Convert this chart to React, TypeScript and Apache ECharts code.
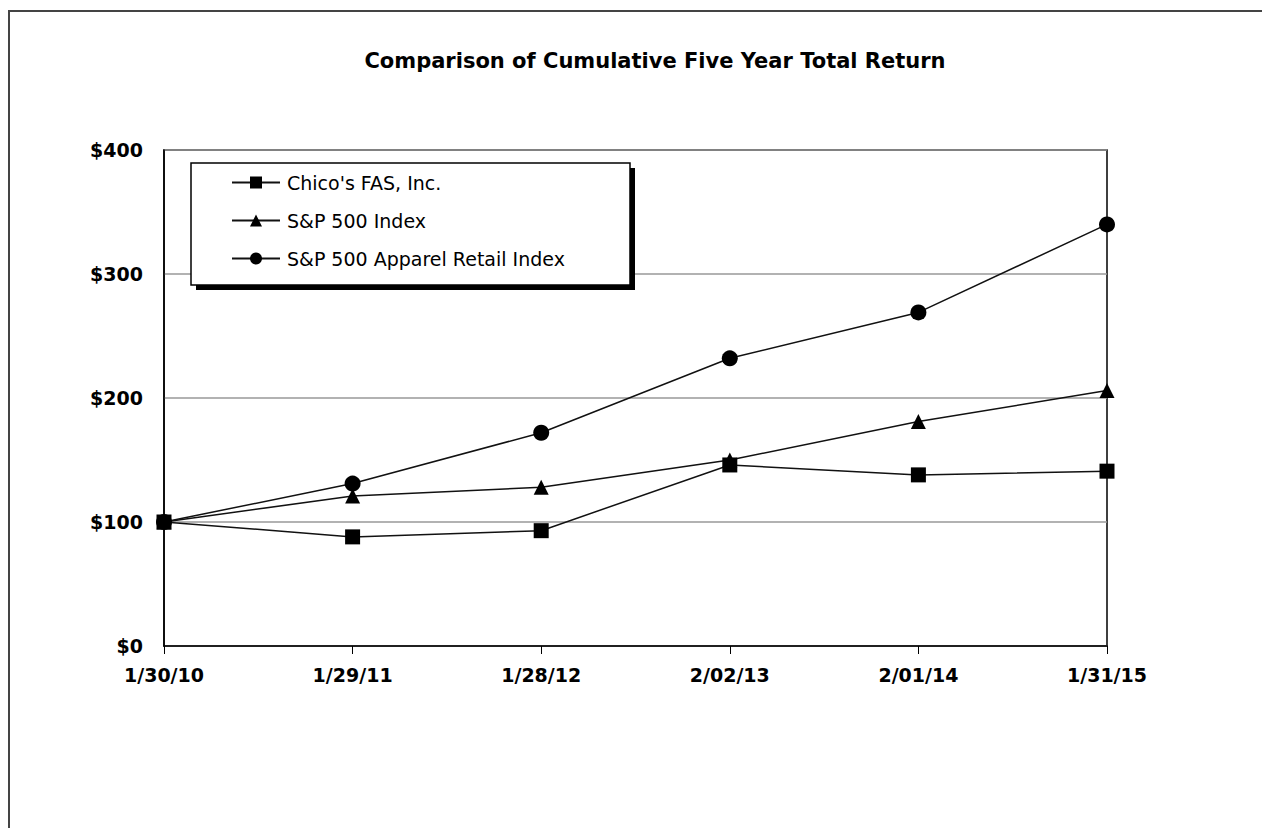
import React, { useEffect, useRef } from "react";
import * as echarts from "echarts";

const categories = ["1/30/10", "1/29/11", "1/28/12", "2/02/13", "2/01/14", "1/31/15"];
const chicos = [100, 88, 93, 146, 138, 141];
const sp500 = [100, 121, 128, 150, 181, 206];
const apparel = [100, 131, 172, 232, 269, 340];
const seriesNames = ["Chico's FAS, Inc.", "S&P 500 Index", "S&P 500 Apparel Retail Index"];
const yTicks = { min: 0, max: 400, interval: 100 };

const BOLD = "'DejaVu Sans', 'Liberation Sans', Arial, sans-serif";
const SANS = "'DejaVu Sans', 'Liberation Sans', Arial, sans-serif";

export default function App() {
  const ref = useRef<HTMLDivElement>(null);
  useEffect(() => {
    if (!ref.current) return;
    const chart = echarts.init(ref.current, null, { renderer: "svg" });
    const mk = (name: string, data: number[], symbol: string, size: number) => ({
      name,
      type: "line",
      data,
      symbol,
      symbolSize: size,
      showAllSymbol: true,
      lineStyle: { color: "#111", width: 1.5 },
      itemStyle: { color: "#000", borderWidth: 0 },
      z: 5,
    });
    chart.setOption({
      animation: false,
      backgroundColor: "#fff",
      title: {
        text: "Comparison of Cumulative Five Year Total Return",
        left: 650,
        textAlign: "center",
        top: 45,
        textStyle: { fontFamily: BOLD, fontWeight: "bold", fontSize: 21, color: "#000" },
      },
      graphic: [
        {
          type: "rect",
          shape: { x: 9, y: 11, width: 1300, height: 900 },
          style: { fill: "none", stroke: "#444", lineWidth: 2 },
          silent: true,
          z: 0,
        },
        {
          type: "rect",
          shape: { x: 196, y: 168, width: 439, height: 122 },
          style: { fill: "#000" },
          z: 10,
        },
        {
          type: "rect",
          shape: { x: 191, y: 163, width: 439, height: 122 },
          style: { fill: "#fff", stroke: "#000", lineWidth: 1.5 },
          z: 11,
        },
      ],
      legend: {
        orient: "vertical",
        left: 231,
        top: 173,
        itemWidth: 48,
        itemHeight: 15,
        itemGap: 19,
        padding: 0,
        z: 20,
        data: seriesNames,
        textStyle: { fontFamily: SANS, fontSize: 19, color: "#000", padding: [0, 0, 0, 2] },
      },
      grid: {
        left: 164,
        right: 155,
        top: 150,
        bottom: 182,
        show: true,
        borderColor: "#000",
        borderWidth: 1.5,
        backgroundColor: "transparent",
      },
      xAxis: {
        type: "category",
        data: categories,
        boundaryGap: false,
        axisLine: { lineStyle: { color: "#000", width: 1.5 } },
        axisTick: { show: true, length: 8, lineStyle: { color: "#000" } },
        axisLabel: {
          color: "#000",
          fontFamily: BOLD,
          fontWeight: "bold",
          fontSize: 19,
          margin: 19,
          showMinLabel: true,
          showMaxLabel: true,
          interval: 0,
        },
        splitLine: { show: false },
      },
      yAxis: {
        type: "value",
        min: yTicks.min,
        max: yTicks.max,
        interval: yTicks.interval,
        axisLine: { show: true, lineStyle: { color: "#000", width: 1.5 } },
        axisTick: { show: false },
        axisLabel: {
          color: "#000",
          fontFamily: BOLD,
          fontWeight: "bold",
          fontSize: 19,
          margin: 21,
          formatter: (v: number) => "$" + v,
        },
        splitLine: { show: true, lineStyle: { color: "#999", width: 1.5 } },
      },
      series: [
        mk(seriesNames[0], chicos, "rect", 15),
        mk(seriesNames[1], sp500, "triangle", 15),
        mk(seriesNames[2], apparel, "circle", 16),
      ],
    });
    return () => chart.dispose();
  }, []);
  return (
    <div
      ref={ref}
      style={{ position: "fixed", left: 0, top: 0, width: 1262, height: 828 }}
    />
  );
}
